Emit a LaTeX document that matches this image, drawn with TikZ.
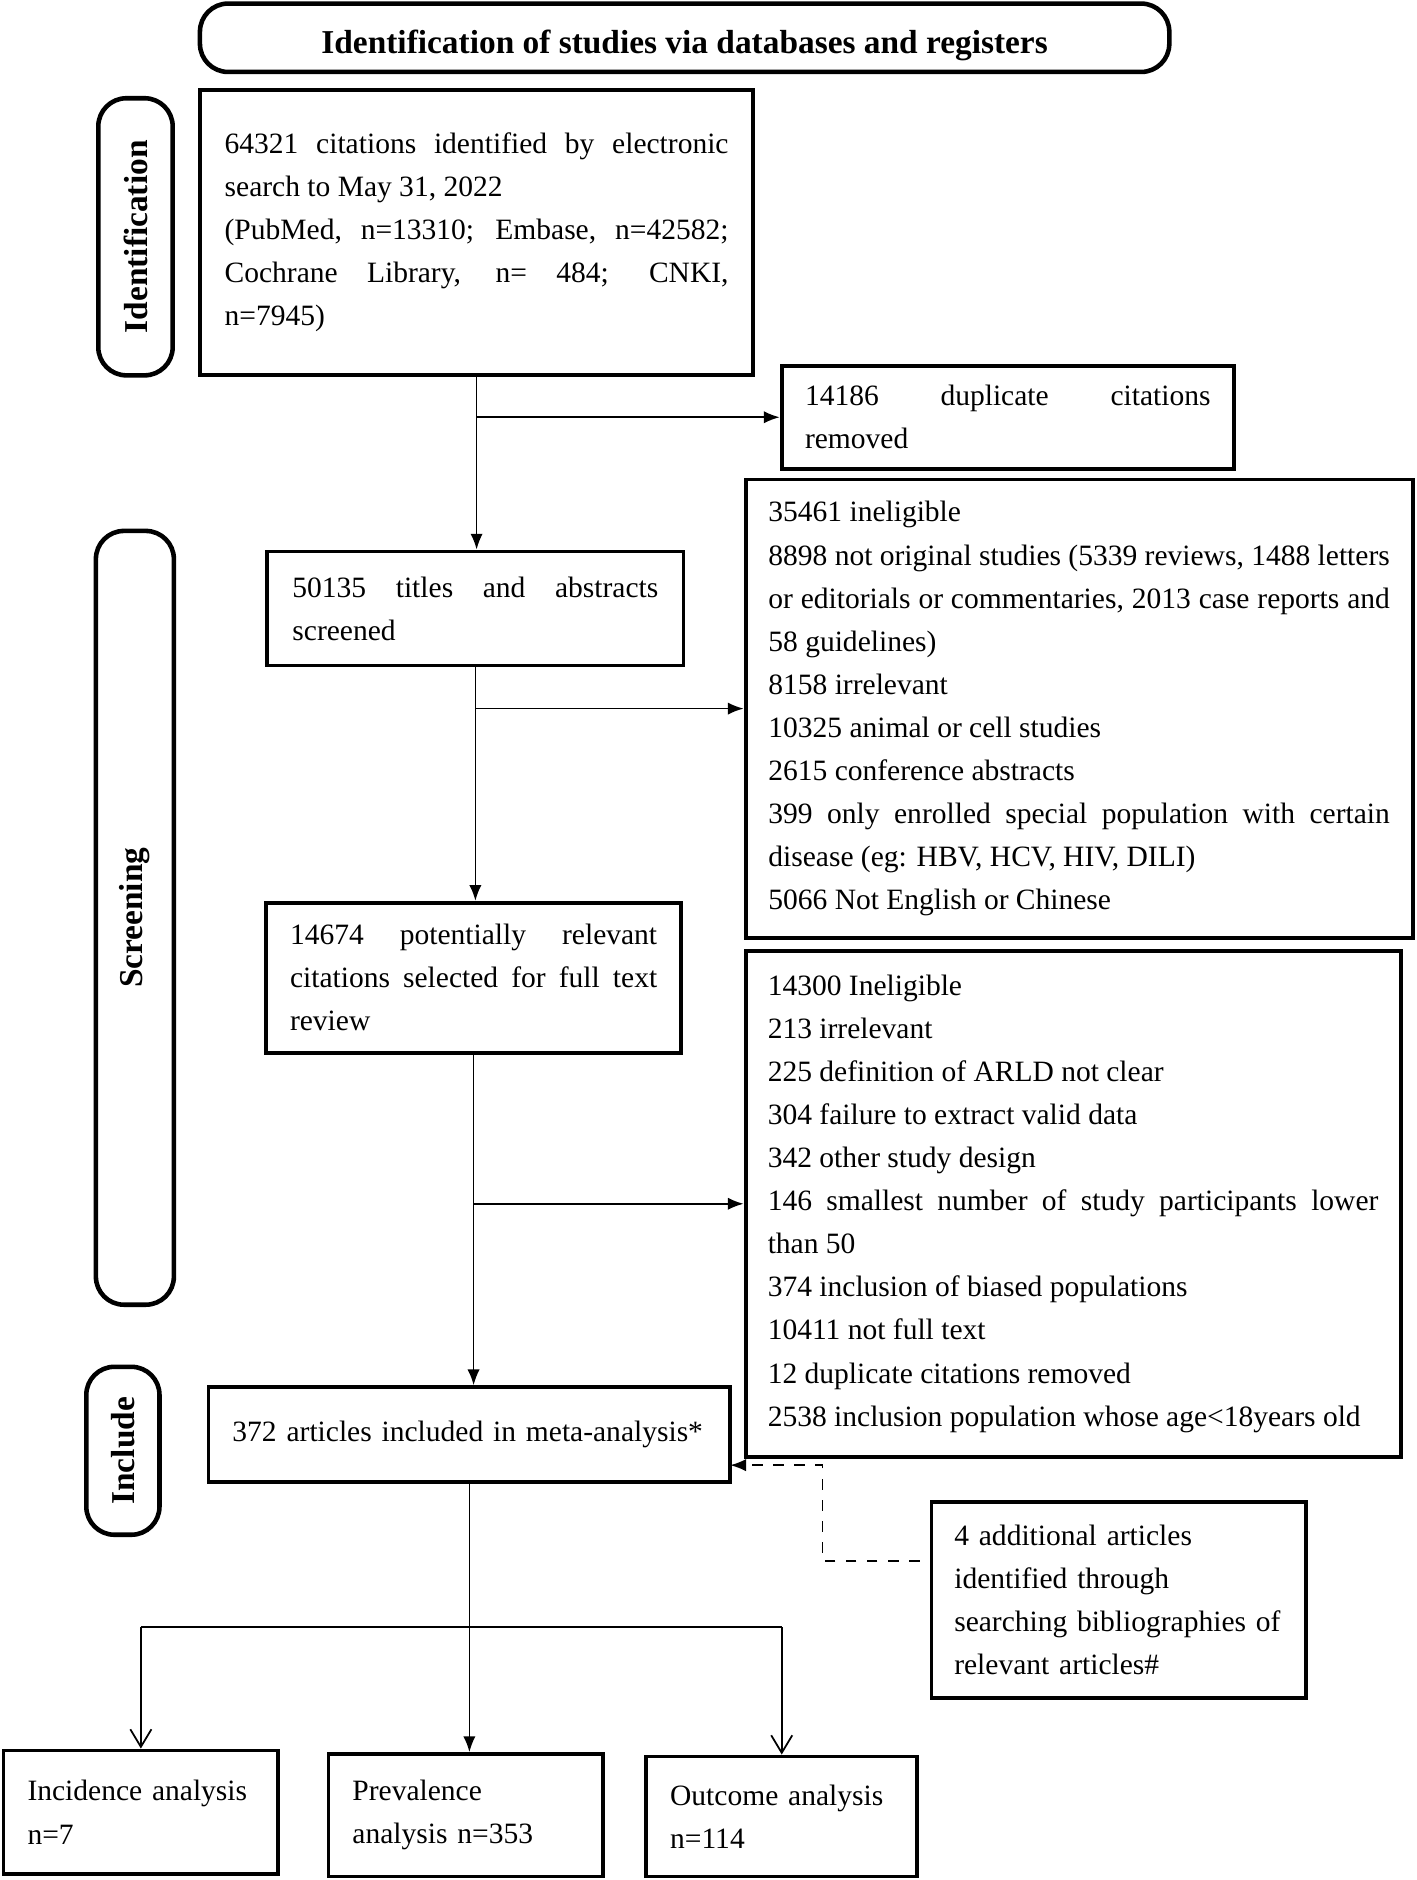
\documentclass[tikz,border=0pt]{standalone}
\usepackage{fontspec}
\setmainfont{Liberation Serif}
\usetikzlibrary{arrows.meta}
\newcommand{\flowtext}{\fontsize{8.4}{12.25}\selectfont\tolerance=10000\hbadness=10000\hyphenpenalty=10000}
\newcommand{\phasefont}{\fontsize{9.5}{11}\selectfont\bfseries}

\begin{document}
\begin{tikzpicture}[x=0.012cm,y=-0.012cm,
    box/.style={draw,line width=1.1pt,inner sep=0pt,font=\flowtext},
    phase/.style={draw,line width=1.3pt,rounded corners=8pt,inner sep=0pt,font=\phasefont},
    arr/.style={-{Latex[length=4.5pt,width=3.5pt]},line width=0.5pt},
    openarr/.style={-{Straight Barb[length=5pt,width=6pt]},line width=0.5pt}]
        \useasboundingbox (0,0) rectangle (1181,1568);
        \node[phase,minimum width=9.696cm,minimum height=0.684cm,text height=11pt,text depth=2pt] (title) at (571,31.5) {Identification of studies via databases and registers};
        % phases
        \node[phase,minimum width=0.744cm,minimum height=2.772cm] (identphase) at (113,197.5) {\rotatebox{90}{Identification}};
        \node[phase,minimum width=0.78cm,minimum height=7.74cm] (screenphase) at (112.5,765.5) {\rotatebox{90}{Screening}};
        \node[phase,minimum width=0.732cm,minimum height=1.68cm] (includephase) at (102.5,1210) {\rotatebox{90}{Include}};
        % main column
        \node[box,minimum width=5.532cm,minimum height=2.856cm,text width=5.04cm,align=justify] (cite) at (397.5,194)
            {64321 citations identified by electronic\linebreak search to May 31, 2022\\
             (PubMed, n=13310; Embase, n=42582;\linebreak Cochrane Library, n= 484; CNKI,\linebreak n=7945)};
        \node[box,minimum width=4.164cm,minimum height=1.14cm,text width=3.66cm,align=justify] (screen) at (396.5,507.5)
            {50135 titles and abstracts\linebreak screened};
        \node[box,minimum width=4.152cm,minimum height=1.5cm,text width=3.672cm,align=justify] (full) at (395,815.5)
            {14674 potentially relevant\linebreak citations selected for full text\linebreak review};
        \node[box,minimum width=5.22cm,minimum height=0.948cm,text width=4.74cm,align=left] (incl) at (391.5,1196.5)
            {372 articles included in meta-analysis*};
        % exclusions
        \node[box,minimum width=4.524cm,minimum height=1.032cm,text width=4.056cm,align=justify] (dup) at (840.5,348)
            {14186 duplicate citations\linebreak removed};
        \node[box,minimum width=6.672cm,minimum height=4.584cm,text width=6.216cm,align=justify] (excl1) at (900,591)
            {35461 ineligible\\
             8898 not original studies (5339 reviews, 1488 letters\linebreak or editorials or commentaries, 2013 case reports and\linebreak 58 guidelines)\\
             8158 irrelevant\\
             10325 animal or cell studies\\
             2615 conference abstracts\\
             399 only enrolled special population with certain\linebreak disease (eg: HBV, HCV, HIV, DILI)\\
             5066 Not English or Chinese};
        \node[box,minimum width=6.552cm,minimum height=5.064cm,text width=6.108cm,align=justify] (excl2) at (895,1004)
            {14300 Ineligible\\
             213 irrelevant\\
             225 definition of ARLD not clear\\
             304 failure to extract valid data\\
             342 other study design\\
             146 smallest number of study participants lower\linebreak than 50\\
             374 inclusion of biased populations\\
             10411 not full text\\
             12 duplicate citations removed\\
             2538 inclusion population whose age<18years old};
        \node[box,minimum width=3.744cm,minimum height=1.956cm,text width=3.288cm,align=left] (add) at (933,1334.5)
            {4 additional articles\\ identified through\\ searching bibliographies of\\ relevant articles\#};
        % analyses
        \node[box,minimum width=2.748cm,minimum height=1.236cm,text width=2.268cm,align=left] (incid) at (117.5,1511.5)
            {Incidence analysis\\ n=7};
        \node[box,minimum width=2.748cm,minimum height=1.224cm,text width=2.268cm,align=left] (prev) at (388.5,1514)
            {Prevalence\\ analysis n=353};
        \node[box,minimum width=2.712cm,minimum height=1.2cm,text width=2.232cm,align=left] (out) at (652,1515)
            {Outcome analysis\\ n=114};
        % connectors
        \draw[arr] (cite.south) -- (cite.south |- screen.north);
        \draw[arr] (cite.south |- dup.west) -- (dup.west);
        \draw[arr] (screen.south) -- (screen.south |- full.north);
        \draw[arr] (screen.south |- excl1.west) -- (excl1.west);
        \draw[arr] (full.south) -- (full.south |- incl.north);
        \draw[arr] (full.south |- excl2.west) -- (excl2.west);
        \coordinate (addout) at (767,1302);
        \coordinate (inclin) at (609,1222);
        \draw[arr,dashed] (addout) -- (686,1302) |- (inclin);
        \draw[arr] (incl.south) -- (incl.south |- prev.north);
        \coordinate (split) at (391,1357);
        \draw[line width=0.5pt] (incid.north |- split) -- (out.north |- split);
        \draw[openarr] (incid.north |- split) -- (incid.north);
        \draw[openarr] (out.north |- split) -- (out.north);
\end{tikzpicture}
\end{document}
